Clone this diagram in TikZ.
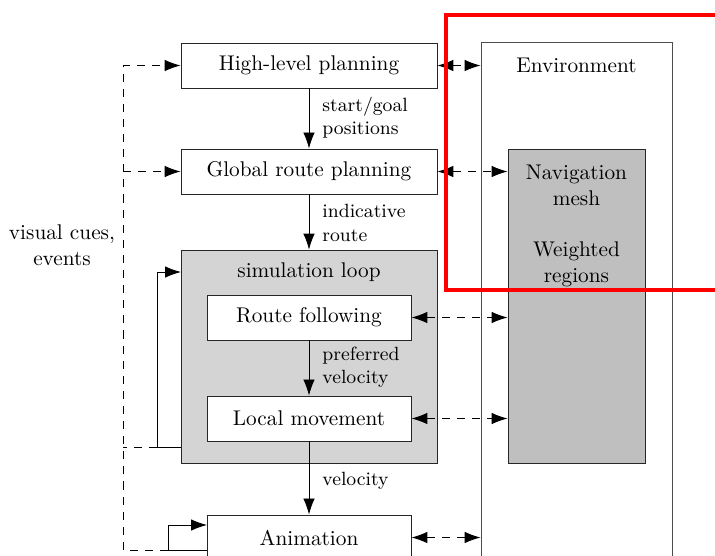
\documentclass[tikz,border=0pt]{standalone}
\usetikzlibrary{arrows.meta}
\begin{document}
\begin{tikzpicture}[x=0.47pt,y=-0.47pt,
  box/.style={draw=black!85, line width=0.4pt, fill=white, inner sep=0pt,
              minimum width=120.3pt, minimum height=21.2pt, font=\normalsize},
  innerbox/.style={box, minimum width=95.9pt},
  simbox/.style={draw=black!85, line width=0.4pt, fill=black!17, inner sep=0pt,
                 minimum width=120.3pt, minimum height=100.1pt},
  envbox/.style={draw=black!70, line width=0.4pt, fill=white, inner sep=0pt,
                 minimum width=89.8pt, minimum height=262.3pt},
  navbox/.style={draw=black!85, line width=0.4pt, fill=black!25, inner sep=0pt,
                 minimum width=64.4pt, minimum height=147.6pt},
  tip/.style={-{Latex[length=7.5pt,width=5.4pt]}},
  flow/.style={tip, line width=0.4pt},
  link/.style={{Latex[length=7.5pt,width=5.4pt]}-{Latex[length=7.5pt,width=5.4pt]},
               line width=0.4pt, dash pattern=on 3.8pt off 3.3pt},
  cue/.style={line width=0.4pt, dash pattern=on 3.8pt off 3.3pt},
  flowlabel/.style={anchor=west, align=left, font=\small, inner sep=0pt}]

\clip (0,0) rectangle (715,555);
\useasboundingbox (0,0) rectangle (715,555);

% environment and its navigation data
\node[envbox] (env) at (576.5,321) {};
\node[inner sep=0pt] (envt) at (576.5,65) {Environment};
\node[navbox] (nav) at (576.5,306) {};
\node[align=center, inner sep=0pt, anchor=north] (navt) at (576.5,165)
  {Navigation\\mesh\\[12pt]Weighted\\regions};

% planning pipeline
\node[box] (hl) at (309,65.5) {High-level planning};
\node[box] (grp) at (309,171.5) {Global route planning};
\node[simbox] (sim) at (309,356.5) {};
\node[inner sep=0pt] (simt) at (309,272) {simulation loop};
\node[innerbox] (rf) at (309,317.5) {Route following};
\node[innerbox] (lm) at (309,418.5) {Local movement};
\node[innerbox] (anim) at (309,537.5) {Animation};

\node[align=center, inner sep=0pt] (cues) at (62,245) {visual cues,\\events};

% data flow between stages
\draw[flow] (hl) -- (grp);
\node[flowlabel] (l1) at (322,117.5) {start/goal\\positions};
\draw[flow] (grp) -- (sim);
\node[flowlabel] (l2) at (322,223) {indicative\\route};
\draw[flow] (rf) -- (lm);
\node[flowlabel] (l3) at (322,367) {preferred\\velocity};
\draw[flow] (lm) -- (anim);
\node[flowlabel] (l4) at (322,481) {velocity};

% queries to the environment
\draw[link] (hl.east) -- (hl.east -| env.west);
\draw[link] (grp.east) -- (grp.east -| nav.west);
\draw[link] (rf.east) -- (rf.east -| nav.west);
\draw[link] (lm.east) -- (lm.east -| nav.west);
\draw[link] (anim.east) -- (anim.east -| env.west);

% feedback loops
\coordinate (simout) at (181,447);
\coordinate (simin) at (181,272);
\coordinate (simturn) at (157,447);
\draw[flow] (simout) -- (simturn) |- (simin);
\coordinate (animout) at (207,550);
\coordinate (animin) at (207,525);
\coordinate (animturn) at (168,550);
\draw[flow] (animout) -- (animturn) |- (animin);

% visual cues and events back to planning
\coordinate (cuex) at (123,550);
\draw[cue] (animturn) -- (cuex);
\draw[cue, tip] (cuex) |- (hl.west);
\draw[cue, tip] (grp.west -| cuex) -- (grp.west);
\draw[cue] (simturn) -- (simturn -| cuex);

% highlight frame
\draw[red, line width=1.9pt] (446,15) rectangle (760,290);
\end{tikzpicture}
\end{document}
